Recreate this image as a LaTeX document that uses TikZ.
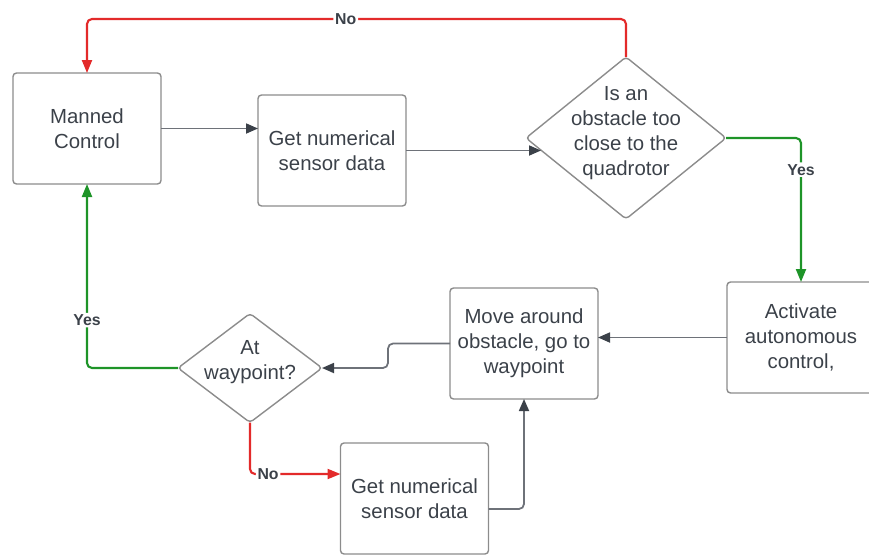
\documentclass[tikz,border=0pt]{standalone}
\usepackage{fontspec}
\setmainfont{Liberation Sans}
\usetikzlibrary{shapes.geometric,arrows.meta,calc}
\definecolor{txtgray}{HTML}{3B4149}
\definecolor{boxgray}{HTML}{8C8C8C}
\definecolor{linegray}{HTML}{6E7279}
\definecolor{nored}{HTML}{E32A2A}
\definecolor{yesgreen}{HTML}{1E9428}

\begin{document}
\begin{tikzpicture}[font=\fontsize{11.6}{14.2}\selectfont, text=txtgray,
    block/.style={draw=boxgray, line width=0.8pt, rounded corners=2pt, align=center,
        minimum width=2.96cm, minimum height=2.22cm, inner sep=2pt, outer sep=0pt},
    decision/.style={draw=boxgray, line width=0.8pt, diamond, rounded corners=2pt,
        inner sep=0pt, outer sep=0pt},
    lbl/.style={font=\fontsize{9}{10}\selectfont\bfseries, fill=white, inner sep=1pt},
    flow/.style={draw=linegray, line width=1pt, rounded corners=0.1cm,
        -{Triangle[length=0.24cm, width=0.2cm, color=txtgray]}},
    no/.style={draw=nored, line width=1.2pt, rounded corners=0.1cm,
        -{Triangle[length=0.26cm, width=0.2cm]}},
    yes/.style={draw=yesgreen, line width=1.2pt, rounded corners=0.1cm,
        -{Triangle[length=0.26cm, width=0.2cm]}}]
    \clip (0, 0) rectangle (17.38, 11.1);

    % upper loop
    \node (manned) [block] at (1.74, 8.53) {Manned\\Control};
    \node (sensA) [block] at (6.64, 8.09) {Get numerical\\sensor data};
    \node (obst) [decision, minimum width=4cm, minimum height=3.24cm,
        label={[align=center, yshift=1mm]center:{Is an\\obstacle too\\close to the\\quadrotor}}]
        at (12.52, 8.34) {};

    % lower loop
    \node (auto) [block] at (16.02, 4.35) {Activate\\autonomous\\control,};
    \node (move) [block] at (10.48, 4.23) {Move around\\obstacle, go to\\waypoint};
    \node (wp) [decision, minimum width=2.88cm, minimum height=2.18cm,
        label={[align=center, yshift=1.2mm]center:{At\\waypoint?}}]
        at (5.0, 3.74) {};
    \node (sensB) [block] at (8.29, 1.13) {Get numerical\\sensor data};

    \draw[flow] (manned.east) -- (manned.east -| sensA.west);
    \draw[flow] (sensA.east) -- (sensA.east -| {$(obst.west)!0.15!(obst.south)$});
    \draw[no] (obst.north) -- ++(0, 0.76) -| node[lbl, pos=0.26] {No} (manned.north);
    \draw[yes] (obst.east) -| node[lbl, pos=0.61] {Yes} (auto.north);

    \draw[flow] (auto.west) -- (auto.west -| move.east);
    \draw[flow] (move.west) -- ++(-1.24, 0) |- (wp.east);
    \draw[yes] (wp.west) -| node[lbl, pos=0.63] {Yes} (manned.south);
    \draw[no] (wp.south) |- node[lbl, pos=0.6] {No} (sensB.west |- 0, 1.62);
    \draw[flow] ([yshift=-0.21cm]sensB.east) -| (move.south);
\end{tikzpicture}
\end{document}
